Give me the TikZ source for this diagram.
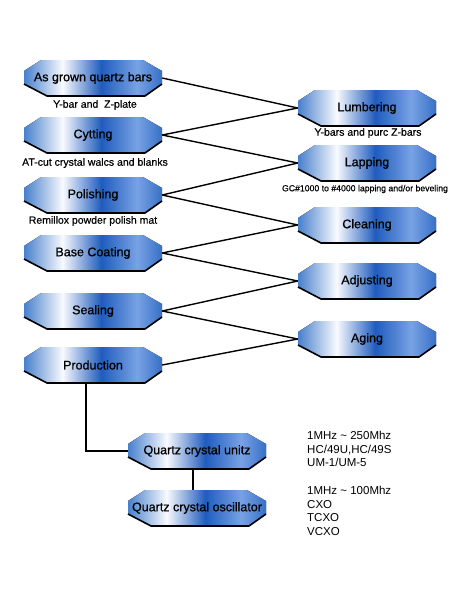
\documentclass[tikz,border=0pt]{standalone}
\usepackage{fontspec}
\setmainfont{Liberation Sans}
\newfontfamily\octfont[FakeBold=0.8]{Liberation Sans}
\newfontfamily\captfont[FakeBold=0.4]{Liberation Sans}
\definecolor{oca}{RGB}{72,128,204}
\definecolor{ocb}{RGB}{248,250,254}
\definecolor{occ}{RGB}{32,92,190}
\definecolor{ocd}{RGB}{120,162,228}
\definecolor{oce}{RGB}{55,112,198}
\pgfdeclarehorizontalshading{octshade}{100bp}{color(0bp)=(oca); color(25bp)=(oca); color(39bp)=(ocb); color(53bp)=(occ); color(66bp)=(ocd); color(75bp)=(oce); color(100bp)=(oce)}
\tikzset{
  octtext/.style={minimum width=138pt, minimum height=36pt, inner sep=0pt, font=\octfont\fontsize{12.5}{14}\selectfont},
  capt/.style={font=\captfont\fontsize{10.5}{12}\selectfont, inner sep=0pt},
  spec/.style={font=\fontsize{11.5}{13.5}\selectfont, inner sep=0pt, align=left, anchor=west},
  link/.style={line width=1.4pt, black},
  shadowline/.style={line width=1.6pt, black, line join=round},
}
\newcommand{\octbox}[4]{%
  \begin{scope}[shift={(#2,#3)}]
    \fill[shading=octshade] (-52,-18) -- (50,-18) -- (69,-7) -- (69,6) -- (52,18) -- (-46,18) -- (-69,6) -- (-69,-7) -- cycle;
    \draw[shadowline] (-69,6) -- (-46,18) -- (52,18) -- (69,6);
  \end{scope}
  \node[octtext] (#1) at (#2,#3) {#4};}
\begin{document}
\begin{tikzpicture}[x=1pt,y=-1pt]
\useasboundingbox (0,0) rectangle (450,600);
% left column
\octbox{ag}{93}{78}{As grown quartz bars}
\octbox{cy}{93}{135}{Cytting}
\octbox{po}{93}{195}{Polishing}
\octbox{bc}{93}{253}{Base Coating}
\octbox{se}{93}{311}{Sealing}
\octbox{pr}{93}{365}{Production}
% right column
\octbox{lu}{367}{108}{Lumbering}
\octbox{la}{367}{163}{Lapping}
\octbox{cl}{367}{225}{Cleaning}
\octbox{ad}{367}{281}{Adjusting}
\octbox{gi}{367}{339}{Aging}
% products
\octbox{qu}{197}{451}{Quartz crystal unitz}
\octbox{qo}{197}{508}{Quartz crystal oscillator}
% captions
\node[capt] (c1) at (95,105) {Y-bar and\ \ Z-plate};
\node[capt] (c2) at (95,163) {AT-cut crystal walcs and blanks};
\node[capt] (c3) at (93,221) {Remillox powder polish mat};
\node[capt] (c4) at (368,133) {Y-bars and purc Z-bars};
\node[capt, font=\captfont\fontsize{8.7}{10}\selectfont] (c5) at (365,189) {GC\#1000 to \#4000 lapping and/or beveling};
% specs
\node[spec] (s1) at (307,449) {1MHz \textasciitilde{} 250Mhz\\HC/49U,HC/49S\\UM-1/UM-5};
\node[spec] (s2) at (307,511) {1MHz \textasciitilde{} 100Mhz\\CXO\\TCXO\\VCXO};
% links
\draw[link] (ag.east) -- (lu.west);
\draw[link] (cy.east) -- (lu.west);
\draw[link] (cy.east) -- (la.west);
\draw[link] (po.east) -- (la.west);
\draw[link] (po.east) -- (cl.west);
\draw[link] (bc.east) -- (cl.west);
\draw[link] (bc.east) -- (ad.west);
\draw[link] (se.east) -- (ad.west);
\draw[link] (se.east) -- (gi.west);
\draw[link] (pr.east) -- (gi.west);
\draw[link] ([xshift=-7pt]pr.south) |- (qu.west);
\draw[link] ([xshift=-4pt]qu.south) -- ([xshift=-4pt]qo.north);
\end{tikzpicture}
\end{document}
